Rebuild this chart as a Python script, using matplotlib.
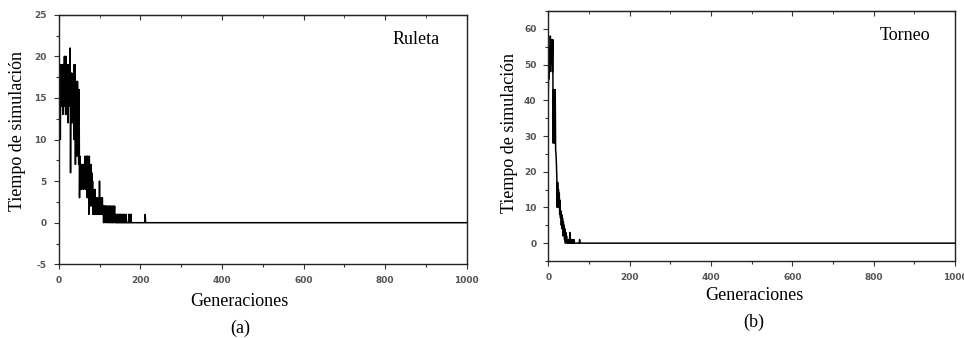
import numpy as np
import matplotlib
matplotlib.use("Agg")
import matplotlib.pyplot as plt
from matplotlib.ticker import MultipleLocator

plt.rcParams["axes.unicode_minus"] = False

# ---- data ----
ruleta_vals = [
    8, 17, 11, 15, 10, 19, 14, 17, 15, 19,
    13, 16, 19, 15, 20, 14, 18, 13, 20, 16,
    19, 13, 17, 12, 19, 14, 18, 15, 21, 6,
    16, 13, 18, 12, 16, 14, 17, 10, 19, 15,
    19, 7, 17, 12, 15, 8, 17, 9, 16, 7,
    16, 3, 8, 5, 7, 4, 7, 6, 5, 7,
    4, 6, 7, 5, 8, 4, 7, 5, 8, 6,
    3, 8, 5, 7, 1, 8, 4, 6, 2, 7,
    3, 6, 2, 5, 1, 4, 2, 3, 1, 4,
    2, 3, 1, 3, 1, 2, 1, 3, 1, 2,
    5, 2, 1, 3, 1, 2, 1, 3, 1, 2,
    0, 2, 1, 2, 0, 2, 1, 2, 0, 1,
    2, 0, 1, 2, 0, 2, 1, 0, 2, 1,
    0, 2, 0, 1, 2, 0, 1, 2, 0, 1,
    0, 1, 0, 0, 1, 0, 1, 0, 0, 1,
    0, 1, 0, 1, 0, 0, 1, 0, 1, 0,
    0, 1, 0, 0, 0, 1, 0, 0, 0, 0,
    0, 0, 1, 0, 1, 0, 0, 1, 0, 0,
    0, 0, 0, 0, 0, 0, 0, 0, 0, 0,
    0, 0, 0, 0, 0, 0, 0, 0, 0, 0,
    0, 0, 0, 0, 0, 0, 0, 0, 0, 0,
    0, 0, 1, 0, 0, 0,
]
torneo_vals = [
    42, 50, 46, 55, 48, 58, 50, 57, 52, 56,
    48, 57, 28, 43, 30, 42, 28, 43, 26, 25,
    22, 18, 10, 17, 12, 15, 10, 14, 8, 12,
    7, 9, 5, 8, 4, 7, 2, 6, 3, 5,
    1, 4, 0, 3, 1, 2, 0, 1, 0, 1,
    0, 1, 0, 3, 0, 1, 0, 1, 0, 0,
    1, 0, 0, 1, 0, 0, 0, 0, 0, 0,
    0, 0, 0, 0, 0, 0, 0, 1, 0, 0,
]
last_generation = 1000
x_ticks = [0, 200, 400, 600, 800, 1000]
ruleta_yticks = [-5, 0, 5, 10, 15, 20, 25]
torneo_yticks = [0, 10, 20, 30, 40, 50, 60]

W, H = 964, 338
fig = plt.figure(figsize=(W / 100, H / 100), dpi=100)

serif = "Liberation Serif"


def series(vals):
    x = list(range(len(vals))) + [last_generation]
    y = list(vals) + [0]
    return x, y


def style(ax, yticks, ylim, ymin_step):
    ax.set_xlim(0, 1000)
    ax.set_ylim(*ylim)
    ax.set_xticks(x_ticks)
    ax.set_yticks(yticks)
    ax.xaxis.set_minor_locator(MultipleLocator(100))
    ax.yaxis.set_minor_locator(MultipleLocator(ymin_step))
    ax.tick_params(which="both", direction="out", labelsize=6.5,
                   labelcolor="#555555", color="#333333", width=0.8)
    ax.tick_params(which="major", length=3.5, pad=5)
    ax.tick_params(which="minor", length=2)
    for lab in ax.get_xticklabels() + ax.get_yticklabels():
        lab.set_fontweight("bold")
    sec = ax.secondary_xaxis("top")
    sec.set_xticks(x_ticks)
    sec.xaxis.set_minor_locator(MultipleLocator(100))
    sec.tick_params(which="both", direction="in", labeltop=False, color="#333333")
    sec.tick_params(which="major", length=3.5)
    sec.tick_params(which="minor", length=2)
    for s in ax.spines.values():
        s.set_linewidth(1.0)
        s.set_color("#222222")


# left panel
axL = fig.add_axes([58.7 / W, 1 - 264.3 / H, (466.7 - 58.7) / W, (264.3 - 14.7) / H])
xL, yL = series(ruleta_vals)
axL.plot(xL, yL, color="black", lw=1.1)
style(axL, ruleta_yticks, (-5, 25), 2.5)
fig.text(416 / W, 1 - 39 / H, "Ruleta", ha="center", va="center",
         fontsize=13, family=serif)
fig.text(239 / W, 1 - 302 / H, "Generaciones", ha="center", va="center",
         fontsize=13, family=serif)
fig.text(240 / W, 1 - 328 / H, "(a)", ha="center", va="center",
         fontsize=13, family=serif)
fig.text(18 / W, 1 - 131 / H, "Tiempo de simulación", ha="center", va="center",
         rotation=90, fontsize=13, family=serif)

# right panel
axR = fig.add_axes([548.3 / W, 1 - 261 / H, (955 - 548.3) / W, (261 - 11) / H])
xR, yR = series(torneo_vals)
axR.plot(xR, yR, color="black", lw=1.1)
style(axR, torneo_yticks, (-5, 65), 5)
fig.text(905 / W, 1 - 36 / H, "Torneo", ha="center", va="center",
         fontsize=13, family=serif)
fig.text(754 / W, 1 - 296 / H, "Generaciones", ha="center", va="center",
         fontsize=13, family=serif)
fig.text(754 / W, 1 - 322 / H, "(b)", ha="center", va="center",
         fontsize=13, family=serif)
fig.text(509 / W, 1 - 133 / H, "Tiempo de simulación", ha="center", va="center",
         rotation=90, fontsize=13, family=serif)

fig.savefig("out.png", dpi=100)
